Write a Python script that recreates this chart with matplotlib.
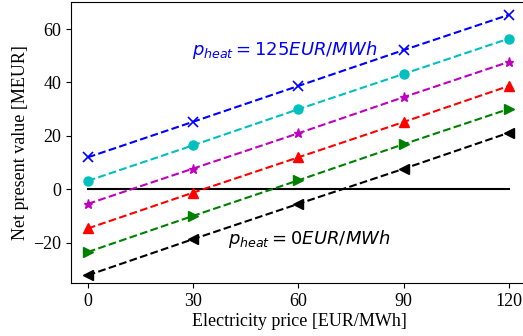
import matplotlib
matplotlib.use("Agg")
import matplotlib.pyplot as plt

electricity_price = [0, 30, 60, 90, 120]
npv_125 = [12.0, 25.3, 38.7, 52.1, 65.3]
npv_100 = [3.2, 16.5, 30.0, 43.2, 56.4]
npv_75 = [-5.4, 7.8, 21.0, 34.5, 47.7]
npv_50 = [-14.6, -1.2, 12.0, 25.2, 38.7]
npv_25 = [-23.4, -9.9, 3.4, 16.9, 30.1]
npv_0 = [-32.1, -18.6, -5.4, 7.7, 21.2]

series = [
    (npv_125, 'b', 'x'),
    (npv_100, 'c', 'o'),
    (npv_75, 'm', '*'),
    (npv_50, 'r', '^'),
    (npv_25, 'g', '>'),
    (npv_0, 'k', '<'),
]

plt.rcParams['font.family'] = ['Liberation Serif', 'DejaVu Serif']
plt.rcParams['mathtext.fontset'] = 'dejavusans'

fig = plt.figure(figsize=(5.23, 3.36), dpi=100)
ax = fig.add_axes([0.1357, 0.1577, 0.872, 0.8363])

ax.plot([electricity_price[0], electricity_price[-1]], [0, 0], 'k-', lw=1.5)
for vals, c, m in series:
    mew = 1.2 if m == 'x' else 1.0
    ax.plot(electricity_price, vals, color=c, ls='--', marker=m, lw=1.5,
            ms=6.5, mew=mew)

ax.set_xlim(-4.8, 125.2)
ax.set_ylim(-35, 70.1)
ax.set_xticks(electricity_price)
ax.set_yticks([-20, 0, 20, 40, 60])
ax.tick_params(labelsize=13)
ax.set_xlabel('Electricity price [EUR/MWh]', fontsize=13, labelpad=2)
ax.set_ylabel('Net present value [MEUR]', fontsize=13, labelpad=3)

ax.text(56, 52.1, r'$p_{heat} = 125EUR/MWh$', color='b', fontsize=13,
        ha='center', va='center', family='DejaVu Sans')
ax.text(63, -18.5, r'$p_{heat} = 0EUR/MWh$', color='k', fontsize=13,
        ha='center', va='center', family='DejaVu Sans')

fig.savefig('out.png', dpi=100)
